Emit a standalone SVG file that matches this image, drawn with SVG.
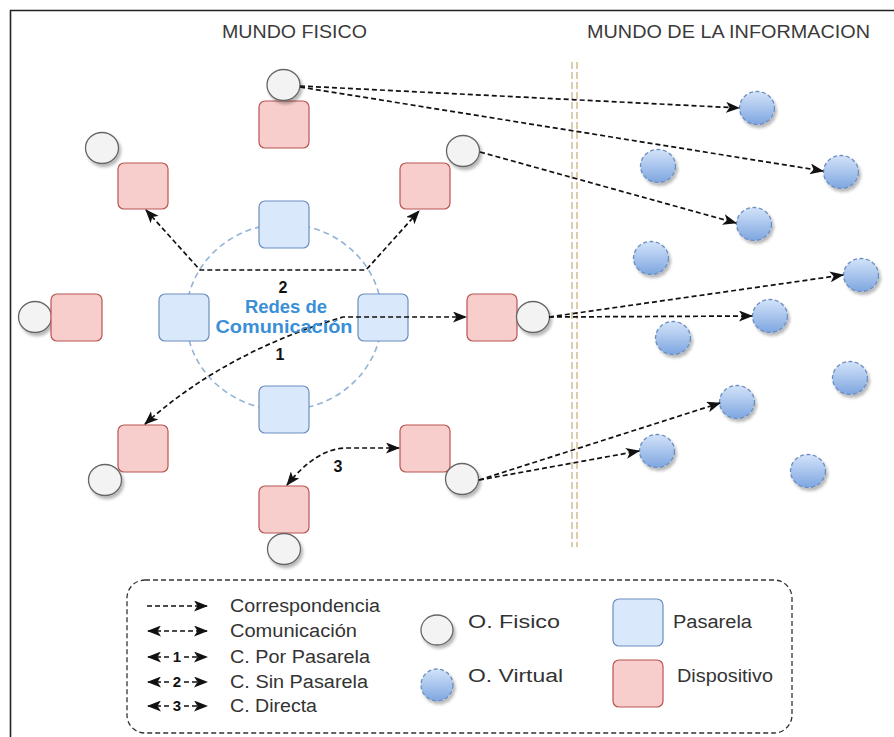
<svg xmlns="http://www.w3.org/2000/svg" width="894" height="737" viewBox="0 0 894 737">
  <style>
    text { font-family: "Liberation Sans", Arial, sans-serif; fill: #333; }
    .title { font-size: 18px; fill: #3a3a3a; }
    .leg { font-size: 18px; fill: #333; }
    .num { font-size: 16px; font-weight: bold; fill: #111; }
    .lnum { font-size: 15px; font-weight: bold; fill: #111; }
    .net { font-size: 18px; font-weight: bold; fill: #3b8fd6; }
    .dev { fill: #f8cecc; stroke: #b85450; stroke-width: 1.2; }
    .gw { fill: #dae8fc; stroke: #6c8ebf; stroke-width: 1.2; }
    .phys { fill: #f3f3f3; stroke: #666; stroke-width: 1.3; filter: url(#shadow); }
    .virt { fill: url(#vgrad); stroke: #6c8ebf; stroke-width: 1.3; stroke-dasharray: 4 2.5; filter: url(#shadow); }
    .link { fill: none; stroke: #111; stroke-width: 1.7; stroke-dasharray: 5 3; }
    .one { marker-end: url(#arr); }
    .two { marker-start: url(#arr); marker-end: url(#arr); }
  </style>
  <defs>
    <linearGradient id="vgrad" x1="0" y1="0" x2="0" y2="1">
      <stop offset="0" stop-color="#d3e3fa"/>
      <stop offset="1" stop-color="#7ea6e0"/>
    </linearGradient>
    <filter id="shadow" x="-30%" y="-30%" width="170%" height="170%">
      <feDropShadow dx="2" dy="3" stdDeviation="1.4" flood-color="#000" flood-opacity="0.28"/>
    </filter>
    <marker id="arr" viewBox="0 0 14 11" refX="13" refY="5.5" markerWidth="14" markerHeight="11" markerUnits="userSpaceOnUse" orient="auto-start-reverse">
      <path d="M0,0 L14,5.5 L0,11 L3.5,5.5 Z" fill="#111"/>
    </marker>
  </defs>

  <rect width="894" height="737" fill="#fff"/>
  <!-- frame -->
  <path d="M10.5,737 V10.5 H894" fill="none" stroke="#222" stroke-width="1.6"/>

  <!-- headings -->
  <text class="title" x="222" y="38" textLength="145" lengthAdjust="spacingAndGlyphs">MUNDO FISICO</text>
  <text class="title" x="587" y="38" textLength="283" lengthAdjust="spacingAndGlyphs">MUNDO DE LA INFORMACION</text>

  <!-- boundary between the two worlds -->
  <g id="divider" fill="none" stroke="#c2a56e" stroke-width="1.1" stroke-dasharray="7 3">
    <line x1="572" y1="62" x2="572" y2="547"/>
    <line x1="577" y1="62" x2="577" y2="547"/>
  </g>

  <!-- communication network -->
  <g id="network">
    <ellipse cx="284" cy="317" rx="98" ry="93" fill="none" stroke="#93b4d4" stroke-width="1.6" stroke-dasharray="6 4"/>
  </g>

  <!-- gateways -->
  <g id="gw-top"><rect class="gw" x="259" y="201" width="50" height="47" rx="6"/></g>
  <g id="gw-left"><rect class="gw" x="159" y="294" width="50" height="47" rx="6"/></g>
  <g id="gw-right"><rect class="gw" x="358" y="294" width="50" height="47" rx="6"/></g>
  <g id="gw-bottom"><rect class="gw" x="259" y="386" width="50" height="47" rx="6"/></g>

  <!-- devices with their physical objects -->
  <g id="dev-top">
    <rect class="dev" x="259" y="101" width="50" height="47" rx="6"/>
    <ellipse class="phys" cx="283.5" cy="85" rx="16.5" ry="15.5"/>
  </g>
  <g id="dev-upper-left">
    <rect class="dev" x="118" y="163" width="50" height="46" rx="6"/>
    <ellipse class="phys" cx="102" cy="148" rx="16.5" ry="15.5"/>
  </g>
  <g id="dev-upper-right">
    <rect class="dev" x="400" y="163" width="50" height="46" rx="6"/>
    <ellipse class="phys" cx="463" cy="151" rx="16.5" ry="15.5"/>
  </g>
  <g id="dev-left">
    <ellipse class="phys" cx="35" cy="317" rx="16.5" ry="15.5"/>
    <rect class="dev" x="51" y="294" width="51" height="47" rx="6"/>
  </g>
  <g id="dev-right">
    <rect class="dev" x="467" y="294" width="50" height="47" rx="6"/>
    <ellipse class="phys" cx="533" cy="317" rx="16.5" ry="15.5"/>
  </g>
  <g id="dev-lower-left">
    <rect class="dev" x="118" y="425" width="50" height="47" rx="6"/>
    <ellipse class="phys" cx="105" cy="480" rx="16.5" ry="15.5"/>
  </g>
  <g id="dev-lower-right">
    <rect class="dev" x="400" y="425" width="50" height="47" rx="6"/>
    <ellipse class="phys" cx="462" cy="479" rx="16.5" ry="15.5"/>
  </g>
  <g id="dev-bottom">
    <rect class="dev" x="259" y="486" width="50" height="47" rx="6"/>
    <ellipse class="phys" cx="284" cy="549" rx="16.5" ry="15.5"/>
  </g>

  <!-- virtual objects -->
  <g id="virtual-objects">
    <ellipse class="virt" cx="757" cy="108" rx="17.5" ry="16.5"/>
    <ellipse class="virt" cx="658" cy="166" rx="17.5" ry="16.5"/>
    <ellipse class="virt" cx="841" cy="172" rx="17.5" ry="16.5"/>
    <ellipse class="virt" cx="754" cy="224" rx="17.5" ry="16.5"/>
    <ellipse class="virt" cx="651" cy="258" rx="17.5" ry="16.5"/>
    <ellipse class="virt" cx="861" cy="275" rx="17.5" ry="16.5"/>
    <ellipse class="virt" cx="770" cy="316" rx="17.5" ry="16.5"/>
    <ellipse class="virt" cx="673" cy="338" rx="17.5" ry="16.5"/>
    <ellipse class="virt" cx="850" cy="378" rx="17.5" ry="16.5"/>
    <ellipse class="virt" cx="737" cy="402" rx="17.5" ry="16.5"/>
    <ellipse class="virt" cx="657" cy="451" rx="17.5" ry="16.5"/>
    <ellipse class="virt" cx="808" cy="471" rx="17.5" ry="16.5"/>
  </g>

  <!-- connectors -->
  <g id="connectors">
    <!-- correspondences -->
    <path class="link one" d="M300,86 L739,108"/>
    <path class="link one" d="M300,87 L823,171"/>
    <path class="link one" d="M480,152 L736,223"/>
    <path class="link one" d="M549,317 L843,275"/>
    <path class="link one" d="M549,317 L752,316"/>
    <path class="link one" d="M479,480 L720,403"/>
    <path class="link one" d="M479,480 L639,451"/>
    <!-- communications -->
    <path class="link two" d="M146,210 L200,270 L366,270 L419,211"/>
    <path class="link two" d="M145,424 Q225,352 343,317 L466,317"/>
    <path class="link two" d="M287,485 Q316,449 345,448 L399,448"/>
  </g>

  <!-- labels -->
  <text class="num" x="283" y="293" text-anchor="middle">2</text>
  <text class="net" x="286" y="313" text-anchor="middle" textLength="82" lengthAdjust="spacingAndGlyphs">Redes de</text>
  <text class="net" x="284" y="333" text-anchor="middle" textLength="137" lengthAdjust="spacingAndGlyphs">Comunicación</text>
  <text class="num" x="280" y="360" text-anchor="middle">1</text>
  <text class="num" x="338" y="472" text-anchor="middle">3</text>

  <!-- legend -->
  <g id="legend">
    <rect x="127" y="580" width="665" height="153" rx="18" fill="none" stroke="#333" stroke-width="1.3" stroke-dasharray="5 3"/>
    <g class="link" stroke-dasharray="4 3">
      <line class="one" x1="147" y1="606" x2="207" y2="606"/>
      <line class="two" x1="148" y1="631" x2="207" y2="631"/>
      <line class="two" x1="148" y1="657" x2="170" y2="657" style="marker-end:none"/>
      <line class="one" x1="184" y1="657" x2="207" y2="657"/>
      <line class="two" x1="148" y1="682" x2="170" y2="682" style="marker-end:none"/>
      <line class="one" x1="184" y1="682" x2="207" y2="682"/>
      <line class="two" x1="148" y1="706" x2="170" y2="706" style="marker-end:none"/>
      <line class="one" x1="184" y1="706" x2="207" y2="706"/>
    </g>
    <text class="lnum" x="177" y="662" text-anchor="middle">1</text>
    <text class="lnum" x="177" y="687" text-anchor="middle">2</text>
    <text class="lnum" x="177" y="711" text-anchor="middle">3</text>
    <text class="leg" x="230" y="612" textLength="150" lengthAdjust="spacingAndGlyphs">Correspondencia</text>
    <text class="leg" x="230" y="637" textLength="127" lengthAdjust="spacingAndGlyphs">Comunicación</text>
    <text class="leg" x="230" y="663" textLength="140" lengthAdjust="spacingAndGlyphs">C. Por Pasarela</text>
    <text class="leg" x="230" y="688" textLength="138" lengthAdjust="spacingAndGlyphs">C. Sin Pasarela</text>
    <text class="leg" x="230" y="712" textLength="87" lengthAdjust="spacingAndGlyphs">C. Directa</text>

    <ellipse class="phys" cx="437" cy="630" rx="16" ry="15"/>
    <ellipse class="virt" cx="437" cy="685" rx="16" ry="16"/>
    <text class="leg" x="468" y="628" textLength="92" lengthAdjust="spacingAndGlyphs">O. Fisico</text>
    <text class="leg" x="468" y="682" textLength="95" lengthAdjust="spacingAndGlyphs">O. Virtual</text>

    <rect class="gw" x="613" y="599" width="50" height="47" rx="6"/>
    <rect class="dev" x="613" y="660" width="50" height="47" rx="6"/>
    <text class="leg" x="673" y="628" textLength="79" lengthAdjust="spacingAndGlyphs">Pasarela</text>
    <text class="leg" x="677" y="682" textLength="96" lengthAdjust="spacingAndGlyphs">Dispositivo</text>
  </g>
</svg>
